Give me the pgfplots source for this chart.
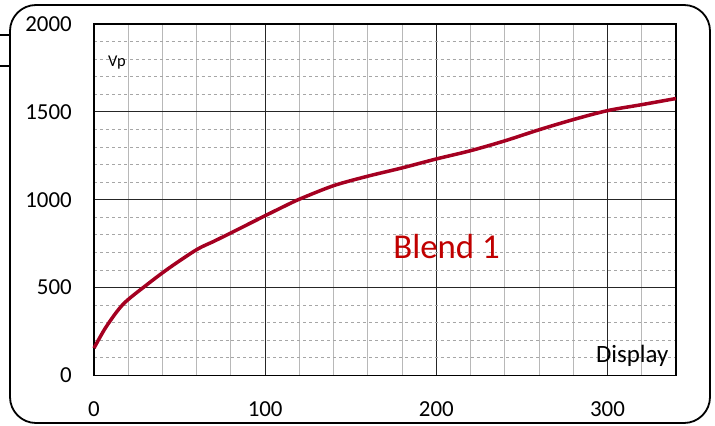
\documentclass[border=0pt]{standalone}
\usepackage{pgfplots}
\pgfplotsset{compat=1.18}
\usepackage{fontspec}
\setmainfont{Carlito}
\definecolor{curve}{RGB}{165,0,33}
\definecolor{blendred}{RGB}{192,0,0}

\begin{document}
\begin{tikzpicture}[x=1bp,y=1bp]
  \useasboundingbox (0,0) rectangle (715,425);
  \draw[line width=1.8bp, rounded corners=26bp] (10,2) rectangle (710,420);
  \draw[line width=1.3bp] (0,390) -- (9,390);
  \draw[line width=1.3bp] (0,359) -- (9,359);
  \begin{axis}[
    at={(94bp,49.6bp)}, anchor=south west,
    scale only axis,
    width=582bp, height=351.4bp,
    xmin=0, xmax=340,
    ymin=0, ymax=2000,
    xtick={0,100,200,300},
    ytick={0,500,1000,1500,2000},
    minor xtick={20,40,60,80,120,140,160,180,220,240,260,280,320},
    minor ytick={100,200,300,400,600,700,800,900,1100,1200,1300,1400,1600,1700,1800,1900},
    grid=both,
    major grid style={black!85, line width=1bp},
    minor x grid style={black!28, line width=0.9bp},
    minor y grid style={black!35, line width=0.8bp, dashed},
    tick style={draw=none},
    axis line style={line width=1.8bp, black},
    ticklabel style={font=\fontsize{23}{27}\selectfont, inner sep=0pt},
    /pgf/number format/assume math mode=true,
    /pgf/number format/set thousands separator={},
    yticklabel style={anchor=east, xshift=-22bp},
    xticklabel style={anchor=north, yshift=-26bp},
    clip=false,
  ]
    \addplot[color=curve, line width=3.5bp, smooth] coordinates {
      (0,155) (7,275) (17,405) (31,517) (44,612) (60,716) (70,763)
      (80,811) (90,860) (100,909) (110,957) (120,1003) (140,1080)
      (160,1134) (180,1181) (200,1232) (220,1279) (240,1335)
      (260,1398) (280,1456) (300,1507) (320,1541) (340,1576)
    };
    \node[anchor=west, inner sep=0pt, font=\fontsize{16.5}{20}\selectfont] at (axis cs:8.2,1781) {Vp};
    \node[anchor=base east, inner sep=0pt, font=\fontsize{25}{30}\selectfont] at (axis cs:335.7,71) {Display};
    \node[inner sep=0pt, text=blendred, font=\fontsize{35}{42}\selectfont] at (axis cs:206,732) {Blend 1};
  \end{axis}
\end{tikzpicture}
\end{document}
